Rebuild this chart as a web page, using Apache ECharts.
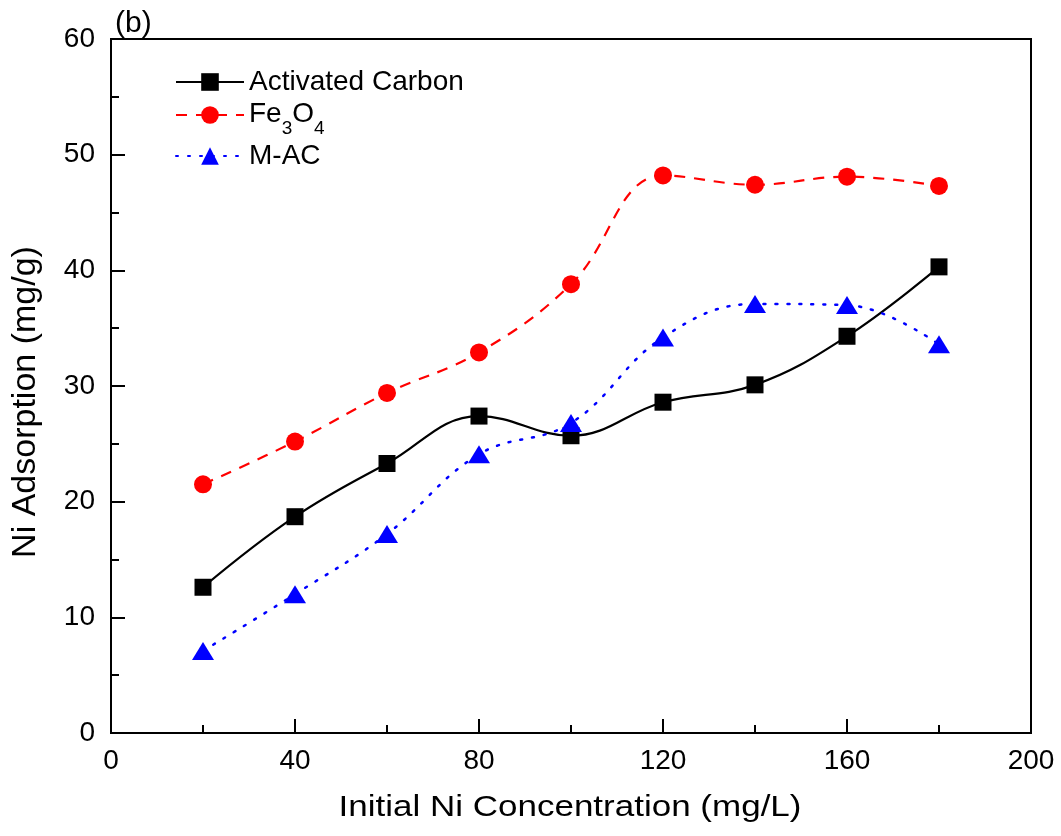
<!DOCTYPE html>
<html>
<head>
<meta charset="utf-8">
<title>Ni Adsorption</title>
<script src="https://cdn.jsdelivr.net/npm/echarts@6/dist/echarts.min.js"></script>
<style>
  html, body { margin: 0; padding: 0; background: #fff; }
  #chart { width: 1061px; height: 836px; }
</style>
</head>
<body>
<div id="chart"></div>
<script>
// Initial Ni concentration (mg/L)
const concentrations = [20, 40, 60, 80, 100, 120, 140, 160, 180];
// Ni adsorption (mg/g) per adsorbent
const activatedCarbon = [12.6, 18.7, 23.3, 27.4, 25.7, 28.6, 30.1, 34.3, 40.3];
const fe3o4 = [21.5, 25.2, 29.4, 32.9, 38.8, 48.2, 47.4, 48.1, 47.3];
const mAC = [7.1, 12.0, 17.2, 24.1, 26.8, 34.2, 37.1, 37.0, 33.6];

const seriesNames = ['Activated Carbon', 'Fe3O4', 'M-AC'];
const xTitle = 'Initial Ni Concentration (mg/L)';
const yTitle = 'Ni Adsorption (mg/g)';

const pairs = vals => concentrations.map((x, i) => [x, vals[i]]);

const chart = echarts.init(document.getElementById('chart'), null, { renderer: 'canvas' });

const font = '"Liberation Sans", Arial, sans-serif';

chart.setOption({
  animation: false,
  backgroundColor: '#ffffff',
  title: {
    text: '(b)',
    left: 110,
    top: 4,
    textStyle: { fontFamily: font, fontSize: 30, fontWeight: 'normal', color: '#000' }
  },
  legend: {
    left: 170,
    top: 62,
    orient: 'vertical',
    itemWidth: 68,
    itemHeight: 22,
    itemGap: 3,
    data: seriesNames,
    textStyle: {
      fontFamily: font,
      fontSize: 28,
      lineHeight: 30,
      color: '#000',
      rich: {
        n: { fontFamily: font, fontSize: 28, lineHeight: 30, color: '#000', verticalAlign: 'top' },
        sub: { fontFamily: font, fontSize: 19, lineHeight: 18, color: '#000', verticalAlign: 'top', padding: [19, 0, 0, 0] }
      }
    },
    formatter: name => name === 'Fe3O4' ? '{n|Fe}{sub|3}{n|O}{sub|4}' : name
  },
  grid: {
    left: 111,
    right: 30,
    top: 39,
    bottom: 103,
    show: true,
    borderColor: '#000',
    borderWidth: 2,
    backgroundColor: 'transparent'
  },
  // axis titles, drawn as text so the horizontal one can be set slightly flattened
  graphic: [
    {
      type: 'text',
      x: 570,
      y: 808,
      scaleY: 0.86,
      style: {
        text: xTitle,
        font: '35px "Liberation Sans", Arial, sans-serif',
        fill: '#000',
        align: 'center',
        verticalAlign: 'middle'
      }
    },
    {
      type: 'text',
      x: 26,
      y: 402,
      rotation: Math.PI / 2,
      style: {
        text: yTitle,
        font: '34px "Liberation Sans", Arial, sans-serif',
        fill: '#000',
        align: 'center',
        verticalAlign: 'middle'
      }
    }
  ],
  xAxis: {
    type: 'value',
    min: 0,
    max: 200,
    interval: 40,
    axisLine: { show: true, lineStyle: { color: '#000', width: 2 } },
    axisTick: { show: true, inside: true, length: 14, lineStyle: { color: '#000', width: 2 } },
    minorTick: { show: true, splitNumber: 2, length: 8, lineStyle: { color: '#000', width: 2 } },
    axisLabel: { fontFamily: font, fontSize: 28, color: '#000', margin: 14 },
    splitLine: { show: false }
  },
  yAxis: {
    type: 'value',
    min: 0,
    max: 60,
    interval: 10,
    axisLine: { show: true, lineStyle: { color: '#000', width: 2 } },
    axisTick: { show: true, inside: true, length: 14, lineStyle: { color: '#000', width: 2 } },
    minorTick: { show: true, splitNumber: 2, length: 8, lineStyle: { color: '#000', width: 2 } },
    axisLabel: { fontFamily: font, fontSize: 28, color: '#000', margin: 16 },
    splitLine: { show: false }
  },
  series: [
    {
      name: seriesNames[0],
      type: 'line',
      data: pairs(activatedCarbon),
      smooth: 0.4,
      symbol: 'rect',
      symbolSize: 17,
      itemStyle: { color: '#000' },
      lineStyle: { color: '#000', width: 2.2, type: 'solid' },
      z: 3
    },
    {
      name: seriesNames[1],
      type: 'line',
      data: pairs(fe3o4),
      smooth: 0.4,
      symbol: 'circle',
      symbolSize: 18,
      itemStyle: { color: '#ff0000' },
      lineStyle: { color: '#ff0000', width: 2.2, type: [11, 9] },
      z: 2
    },
    {
      name: seriesNames[2],
      type: 'line',
      data: pairs(mAC),
      smooth: 0.4,
      symbol: 'triangle',
      symbolSize: [22, 18],
      itemStyle: { color: '#0000ff' },
      lineStyle: { color: '#0000ff', width: 2.5, type: [2, 10], cap: 'round' },
      z: 4
    }
  ]
});
</script>
</body>
</html>
